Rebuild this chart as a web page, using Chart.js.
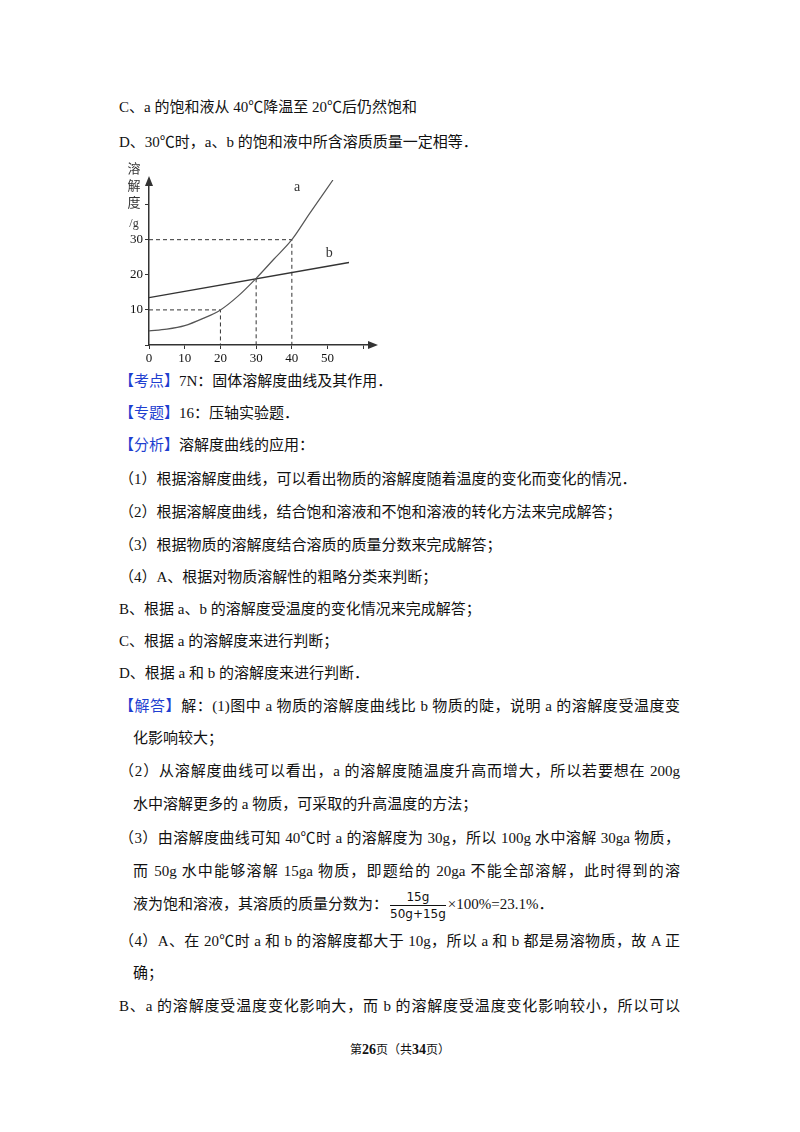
<!DOCTYPE html>
<html><head><meta charset="utf-8">
<script src="https://cdn.jsdelivr.net/npm/chart.js@4/dist/chart.umd.min.js"></script>
<style>
body{margin:0;background:#fff;width:800px;height:1132px;position:relative;overflow:hidden;font-family:"Liberation Serif","Noto Sans CJK SC",serif;color:#111}
.l{position:absolute;left:119px;font-size:15px;line-height:20px;white-space:nowrap;transform:translateY(-10px)}
.i{left:133px}
.j{width:561px;text-align:justify;text-align-last:justify;white-space:normal}
.i.j{width:547px}
.k{color:#1f3fd0}
.fr{display:inline-block;vertical-align:middle;text-align:center;font-family:"DejaVu Sans",sans-serif;font-size:12px;line-height:16px;margin:0 2px}
.fr span{display:block}
.fr .t{border-bottom:1px solid #111}
#wrap{position:absolute;left:110px;top:150px;width:270px;height:220px}
.ft{position:absolute;left:0;width:800px;top:1040px;text-align:center;font-size:12px}
.ft b{font-size:14px}
</style></head><body>
<div class="l" style="top:107px">C、a 的饱和液从 40℃降温至 20℃后仍然饱和</div>
<div class="l" style="top:142px">D、30℃时，a、b 的饱和液中所含溶质质量一定相等．</div>
<div id="wrap"><canvas id="c" width="270" height="220"></canvas></div>
<div class="l" style="top:381px"><span class="k">【考点】</span>7N：固体溶解度曲线及其作用．</div>
<div class="l" style="top:413px"><span class="k">【专题】</span>16：压轴实验题．</div>
<div class="l" style="top:445px"><span class="k">【分析】</span>溶解度曲线的应用：</div>
<div class="l" style="top:479px">（1）根据溶解度曲线，可以看出物质的溶解度随着温度的变化而变化的情况．</div>
<div class="l" style="top:512px">（2）根据溶解度曲线，结合饱和溶液和不饱和溶液的转化方法来完成解答；</div>
<div class="l" style="top:545px">（3）根据物质的溶解度结合溶质的质量分数来完成解答；</div>
<div class="l" style="top:577px">（4）A、根据对物质溶解性的粗略分类来判断；</div>
<div class="l" style="top:609px">B、根据 a、b 的溶解度受温度的变化情况来完成解答；</div>
<div class="l" style="top:641px">C、根据 a 的溶解度来进行判断；</div>
<div class="l" style="top:673px">D、根据 a 和 b 的溶解度来进行判断．</div>
<div class="l j" style="top:706px"><span class="k">【解答】</span>解：(1)图中 a 物质的溶解度曲线比 b 物质的陡，说明 a 的溶解度受温度变</div>
<div class="l i" style="top:738px">化影响较大；</div>
<div class="l j" style="top:771px">（2）从溶解度曲线可以看出，a 的溶解度随温度升高而增大，所以若要想在 200g</div>
<div class="l i" style="top:804px">水中溶解更多的 a 物质，可采取的升高温度的方法；</div>
<div class="l j" style="top:838px">（3）由溶解度曲线可知 40℃时 a 的溶解度为 30g，所以 100g 水中溶解 30ga 物质，</div>
<div class="l i j" style="top:871px">而 50g 水中能够溶解 15ga 物质，即题给的 20ga 不能全部溶解，此时得到的溶</div>
<div class="l i" style="top:904px;line-height:40px;transform:translateY(-20px)">液为饱和溶液，其溶质的质量分数为：<span class="fr"><span class="t">15g</span><span>50g+15g</span></span>×100%=23.1%．</div>
<div class="l j" style="top:941px">（4）A、在 20℃时 a 和 b 的溶解度都大于 10g，所以 a 和 b 都是易溶物质，故 A 正</div>
<div class="l i" style="top:973px">确；</div>
<div class="l j" style="top:1006px">B、a 的溶解度受温度变化影响大，而 b 的溶解度受温度变化影响较小，所以可以</div>
<div class="ft">第<b>26</b>页（共<b>34</b>页）</div>
<script>
const temps = [0, 5, 10, 15, 20, 25, 30, 35, 40, 45, 51.5];
const solA = [4, 4.5, 5.5, 7.5, 10, 14, 19, 24.5, 30, 37.5, 47];
const tempsB = [0, 56];
const solB = [13.5, 23.5];
const guides = [
  [[0, 30], [40, 30], [40, 0]],
  [[0, 10], [20, 10], [20, 0]],
  [[30, 19], [30, 0]]
];
const xTicks = [0, 10, 20, 30, 40, 50, 60];
const yTicks = [0, 10, 20, 30, 40];
const curveLabels = [{x: 41.5, y: 44, t: 'a'}, {x: 50.5, y: 25, t: 'b'}];

const ink = '#333';
const datasets = [
  {data: temps.map((t, i) => ({x: t, y: solA[i]})), borderColor: '#555', borderWidth: 1.2, cubicInterpolationMode: 'monotone'},
  {data: tempsB.map((t, i) => ({x: t, y: solB[i]})), borderColor: ink, borderWidth: 1.4}
];
guides.forEach(g => datasets.push({
  data: g.map(p => ({x: p[0], y: p[1]})), borderColor: ink, borderWidth: 1, borderDash: [4, 3]
}));

const deco = {
  id: 'deco',
  afterDraw(chart) {
    const {ctx, chartArea: a, scales: {x, y}} = chart;
    ctx.save();
    ctx.fillStyle = ink;
    // arrows
    ctx.beginPath();
    ctx.moveTo(a.left, a.top - 4); ctx.lineTo(a.left - 4, a.top + 6); ctx.lineTo(a.left + 4, a.top + 6); ctx.fill();
    ctx.beginPath();
    ctx.moveTo(a.right + 4, a.bottom); ctx.lineTo(a.right - 6, a.bottom - 4); ctx.lineTo(a.right - 6, a.bottom + 4); ctx.fill();
    ctx.font = '14px "Liberation Serif"';
    ctx.textAlign = 'center';
    curveLabels.forEach(c => ctx.fillText(c.t, x.getPixelForValue(c.x), y.getPixelForValue(c.y)));
    ctx.font = '13px "Noto Sans CJK SC"';
    ['溶', '解', '度'].forEach((ch, i) => ctx.fillText(ch, 24, 23 + i * 17));
    ctx.font = '12px "Liberation Serif"';
    ctx.fillText('/g', 24, 77);
    ctx.restore();
  }
};

new Chart(document.getElementById('c'), {
  type: 'line',
  data: {datasets},
  options: {
    responsive: false, animation: false,
    layout: {padding: {top: 30, right: 6, left: 0, bottom: 0}},
    plugins: {legend: {display: false}, tooltip: {enabled: false}},
    elements: {point: {radius: 0}, line: {fill: false}},
    scales: {
      x: {
        type: 'linear', min: 0, max: 63,
        afterBuildTicks: s => { s.ticks = xTicks.map(v => ({value: v})); },
        afterFit: s => { s.height = 25; },
        ticks: {color: '#111', font: {family: 'Liberation Serif', size: 13}, padding: 2, callback: v => v === 60 ? '' : v},
        grid: {drawOnChartArea: false, tickLength: 4, color: ink},
        border: {color: ink, width: 1.5}
      },
      y: {
        min: 0, max: 47,
        afterBuildTicks: s => { s.ticks = yTicks.map(v => ({value: v})); },
        afterFit: s => { s.width = 39; },
        ticks: {color: '#111', font: {family: 'Liberation Serif', size: 13}, padding: 2, callback: v => (v === 0 || v === 40) ? '' : v},
        grid: {drawOnChartArea: false, tickLength: 4, color: ink},
        border: {color: ink, width: 1.5}
      }
    }
  },
  plugins: [deco]
});
</script>
</body></html>
